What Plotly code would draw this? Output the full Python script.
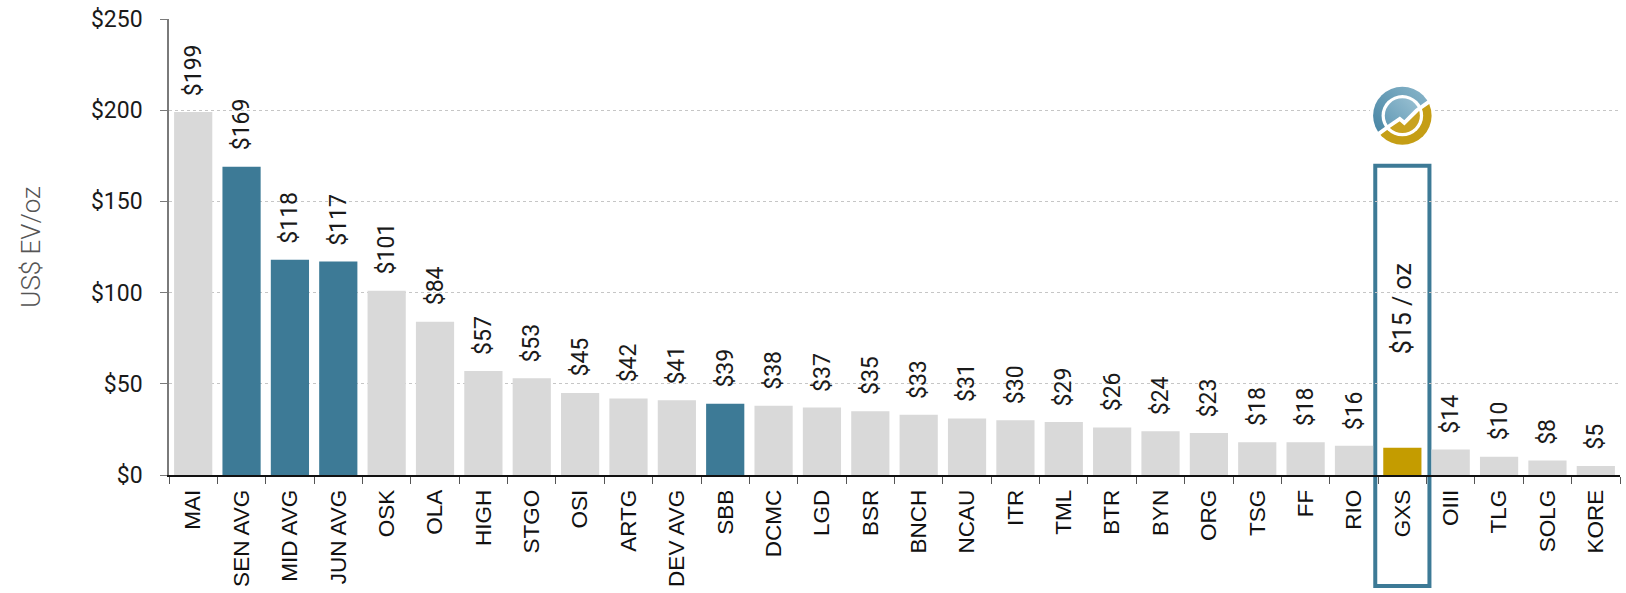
import base64
import plotly.graph_objects as go

categories = ["MAI", "SEN AVG", "MID AVG", "JUN AVG", "OSK", "OLA", "HIGH", "STGO", "OSI", "ARTG",
              "DEV AVG", "SBB", "DCMC", "LGD", "BSR", "BNCH", "NCAU", "ITR", "TML", "BTR",
              "BYN", "ORG", "TSG", "FF", "RIO", "GXS", "OIII", "TLG", "SOLG", "KORE"]
values = [199, 169, 118, 117, 101, 84, 57, 53, 45, 42,
          41, 39, 38, 37, 35, 33, 31, 30, 29, 26,
          24, 23, 18, 18, 16, 15, 14, 10, 8, 5]
groups = ["peer", "avg", "avg", "avg", "peer", "peer", "peer", "peer", "peer", "peer",
          "peer", "avg", "peer", "peer", "peer", "peer", "peer", "peer", "peer", "peer",
          "peer", "peer", "peer", "peer", "peer", "focus", "peer", "peer", "peer", "peer"]
focus_label = "$15 / oz"
y_ticks = [0, 50, 100, 150, 200, 250]

palette = {"peer": "#d9d9d9", "avg": "#3d7a96", "focus": "#c49c00"}
colors = [palette[g] for g in groups]

fig = go.Figure()
fig.add_trace(go.Bar(x=categories, y=values, marker=dict(color=colors, line=dict(width=0)),
                     hoverinfo="x+y"))

focus_idx = groups.index("focus")

# value labels
for i, (c, v, g) in enumerate(zip(categories, values, groups)):
    if g == "focus":
        continue
    fig.add_annotation(x=c, y=v, text=f"${v}", textangle=-90, showarrow=False,
                       xanchor="center", yanchor="bottom", yshift=14,
                       font=dict(family="Roboto", size=23, color="#1a1a1a"))

fig.add_annotation(x=categories[focus_idx], y=91, text=focus_label, textangle=-90, showarrow=False,
                   xanchor="center", yanchor="middle",
                   font=dict(family="Roboto", size=25, color="#1a1a1a"))

# highlight box
fig.add_shape(type="rect", xref="x", yref="paper",
              x0=focus_idx - 0.56, x1=focus_idx + 0.56, y0=-0.2435, y1=0.678,
              line=dict(color="#3d7a96", width=4), fillcolor="white", layer="between")

# logo
svg = """<svg xmlns='http://www.w3.org/2000/svg' viewBox='0 0 100 100'>
<defs>
<clipPath id='up'><polygon points='0,0 100,0 100,22 72,42 53,61 46,55 30,66 0,88'/></clipPath>
<clipPath id='dn'><polygon points='0,88 30,66 46,55 53,61 72,42 100,22 100,100 0,100'/></clipPath>
<linearGradient id='bg' x1='0' y1='1' x2='1' y2='0'><stop offset='0' stop-color='#3f7f9f'/><stop offset='1' stop-color='#8db8cc'/></linearGradient>
<linearGradient id='ib' x1='0' y1='1' x2='1' y2='0'><stop offset='0' stop-color='#5e97b4'/><stop offset='1' stop-color='#9cc2d3'/></linearGradient>
</defs>
<rect width='100' height='100' fill='white'/>
<circle cx='50' cy='50' r='45' fill='url(#bg)' clip-path='url(#up)'/>
<circle cx='50' cy='50' r='45' fill='#c59e15' clip-path='url(#dn)'/>
<circle cx='50' cy='50' r='32' fill='white'/>
<circle cx='50' cy='50' r='27' fill='url(#ib)' clip-path='url(#up)'/>
<circle cx='50' cy='50' r='27' fill='#c9a21e' clip-path='url(#dn)'/>
<polyline points='0,88 30,66 46,55 53,61 72,42 100,22' fill='none' stroke='white' stroke-width='6' stroke-linejoin='miter'/>
</svg>"""
src = "data:image/svg+xml;base64," + base64.b64encode(svg.encode()).decode()
fig.add_layout_image(source=src, xref="x", yref="y", x=focus_idx, y=197,
                     sizex=1.344, sizey=35.3, xanchor="center", yanchor="middle",
                     sizing="stretch", layer="above")

fig.update_layout(
    width=1626, height=593,
    margin=dict(l=169, r=6, t=17, b=116),
    plot_bgcolor="white", paper_bgcolor="white",
    bargap=0.21, showlegend=False,
    font=dict(family="Roboto", color="#1a1a1a"),
)
fig.update_yaxes(range=[0, 250], tickvals=y_ticks, ticktext=[f"${t}" for t in y_ticks],
                 tickfont=dict(family="Roboto", size=23, color="#1a1a1a"),
                 showgrid=True, gridcolor="#c6c6c6", griddash="dot", gridwidth=1,
                 zeroline=False, showline=True, linecolor="#7a7a7a", linewidth=1.5,
                 ticks="outside", ticklen=7, tickcolor="#7a7a7a", ticklabelstandoff=13,
                 title=dict(text="US$ EV/oz",
                            font=dict(family="Roboto", size=26, color="#555555", weight=300),
                            standoff=43))
fig.update_xaxes(showline=True, linecolor="#111111", linewidth=1.5,
                 ticks="outside", tickson="boundaries", ticklen=7, tickcolor="#555555",
                 tickangle=-90, tickfont=dict(family="Liberation Sans", size=22.5, color="#111111"),
                 ticklabelstandoff=4, showgrid=False)

fig.write_html("out.html")
